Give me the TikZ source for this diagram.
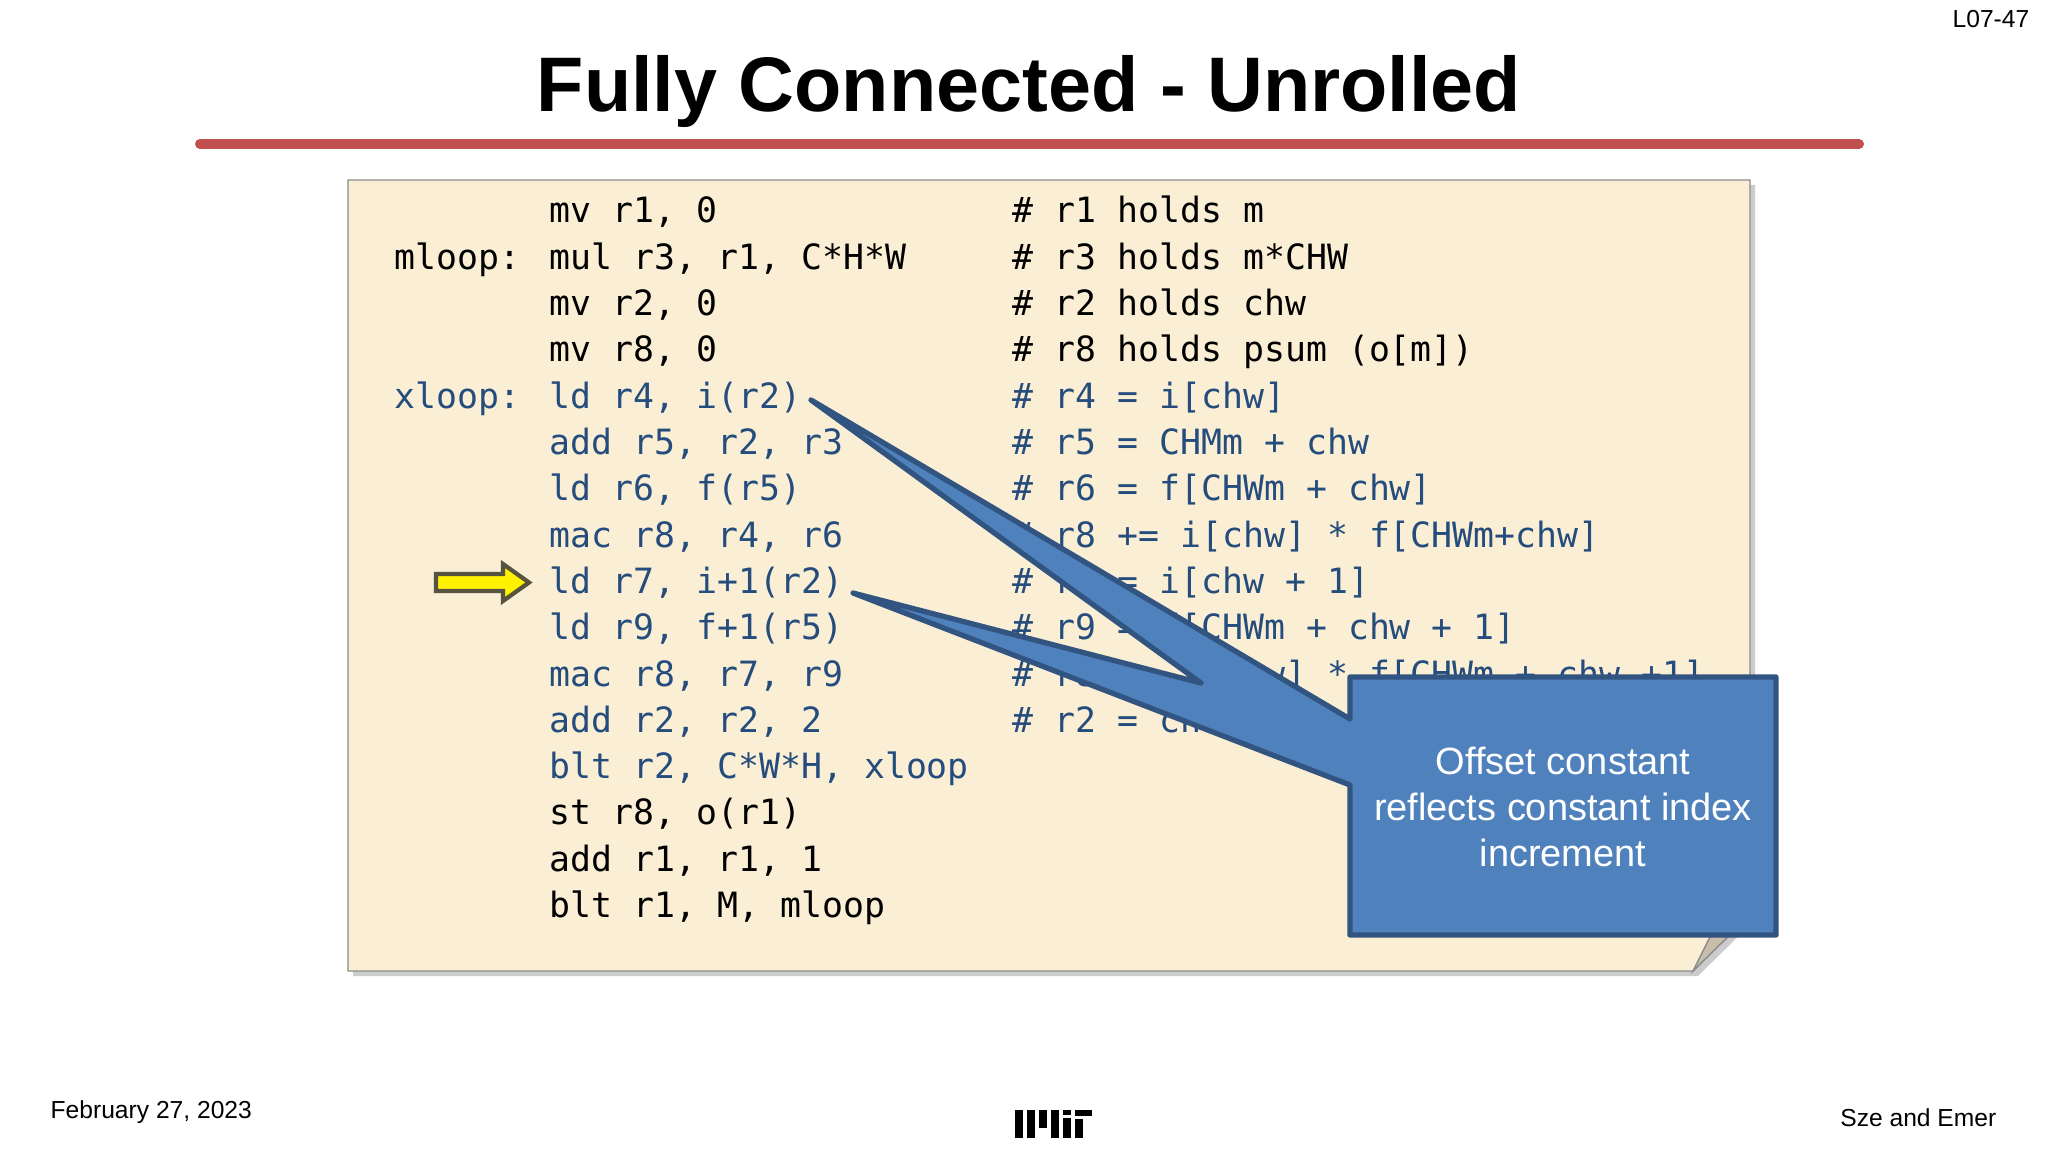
\documentclass[tikz,border=0pt]{standalone}
\usepackage{fontspec}
\setmainfont{Liberation Sans}
\setmonofont{DejaVu Sans Mono}
\definecolor{titlered}{RGB}{192,80,77}
\definecolor{paper}{RGB}{250,238,212}
\definecolor{codeblue}{RGB}{36,76,124}
\definecolor{callfill}{RGB}{79,129,189}
\definecolor{calldraw}{RGB}{50,84,128}
\tikzset{
 code/.style={anchor=base west,inner sep=0pt,font=\ttfamily\fontsize{9.9}{12}\selectfont},
 foot/.style={font=\fontsize{7}{8}\selectfont,inner sep=0pt}
}
\begin{document}
\begin{tikzpicture}[x=0.01cm,y=-0.01cm]
\useasboundingbox (0,0) rectangle (2048,1152);
\fill[white] (0,0) rectangle (2048,1152);
\node[foot,anchor=north east] (pg) at (2030,10) {L07-47};
\node[font=\bfseries\fontsize{22}{26}\selectfont] (title) at (1029,92) {Fully Connected - Unrolled};
\draw[titlered,line width=10*0.01cm,line cap=round] (200,144) -- (1859,144);
% paper
\fill[black!20] (353,185) -- (1755,185) -- (1755,920) -- (1698,976) -- (353,976) -- cycle;
\filldraw[paper,draw=black!45] (348,180) -- (1750,180) -- (1750,915) -- (1693,971) -- (348,971) -- cycle;
\filldraw[fill=paper!80!black,draw=black!45] (1693,971) -- (1712,933) -- (1750,915) -- cycle;
% code
\foreach \i/\l/\c/\m/\col in {
 0//mv r1{,} 0/\# r1 holds m/black,
 1/mloop:/mul r3{,} r1{,} C*H*W/\# r3 holds m*CHW/black,
 2//mv r2{,} 0/\# r2 holds chw/black,
 3//mv r8{,} 0/\# r8 holds psum (o[m])/black,
 4/xloop:/ld r4{,} i(r2)/\# r4 = i[chw]/codeblue,
 5//add r5{,} r2{,} r3/\# r5 = CHMm + chw/codeblue,
 6//ld r6{,} f(r5)/\# r6 = f[CHWm + chw]/codeblue,
 7//mac r8{,} r4{,} r6/\# r8 += i[chw] * f[CHWm+chw]/codeblue,
 8//ld r7{,} i+1(r2)/\# r7 = i[chw + 1]/codeblue,
 9//ld r9{,} f+1(r5)/\# r9 = f[CHWm + chw + 1]/codeblue,
 10//mac r8{,} r7{,} r9/\# r8 += i[chw] * f[CHWm + chw +1]/codeblue,
 11//add r2{,} r2{,} 2/\# r2 = chw + 2/codeblue,
 12//blt r2{,} C*W*H{,} xloop//codeblue,
 13//st r8{,} o(r1)//black,
 14//add r1{,} r1{,} 1//black,
 15//blt r1{,} M{,} mloop//black}{
 \node[code,text=\col] (l\i) at (394,223+46.3*\i) {\l};
 \node[code,text=\col] (c\i) at (549,223+46.3*\i) {\c};
 \node[code,text=\col] (m\i) at (1012,223+46.3*\i) {\m};
}
% yellow arrow
\filldraw[fill=yellow,draw=black!60!yellow!60!black,line width=1.2pt]
 (436,574) -- (503,574) -- (503,564) -- (529,582.5) -- (503,601) -- (503,591) -- (436,591) -- cycle;
% callout
\coordinate (t1) at (811,400);
\coordinate (t2) at (853,593);
\filldraw[fill=callfill,draw=calldraw,line width=1.5pt,line join=round]
 (1350,677) -- (1776,677) -- (1776,935) -- (1350,935) -- (1350,785) -- (t2) -- (1201,683) -- (t1) -- (1350,719) -- cycle;
\node[text=white,align=center,font=\fontsize{10.8}{13.2}\selectfont] (call) at (1563,807)
 {Offset constant\\reflects constant index\\increment};
% footer
\node[foot,anchor=west] (date) at (50,1112) {February 27, 2023};
\node[foot,anchor=east] (auth) at (1997,1118) {Sze and Emer};
\begin{scope}[fill=black]
\fill (1015,1110) rectangle (1023,1138);
\fill (1027,1110) rectangle (1035,1138);
\fill (1039,1110) rectangle (1047,1128);
\fill (1051,1110) rectangle (1059,1138);
\fill (1063,1118) rectangle (1071,1138);
\fill (1063,1110) rectangle (1071,1115);
\fill (1075,1110) rectangle (1092,1116);
\fill (1075,1119) rectangle (1083,1138);
\end{scope}
\end{tikzpicture}
\end{document}
